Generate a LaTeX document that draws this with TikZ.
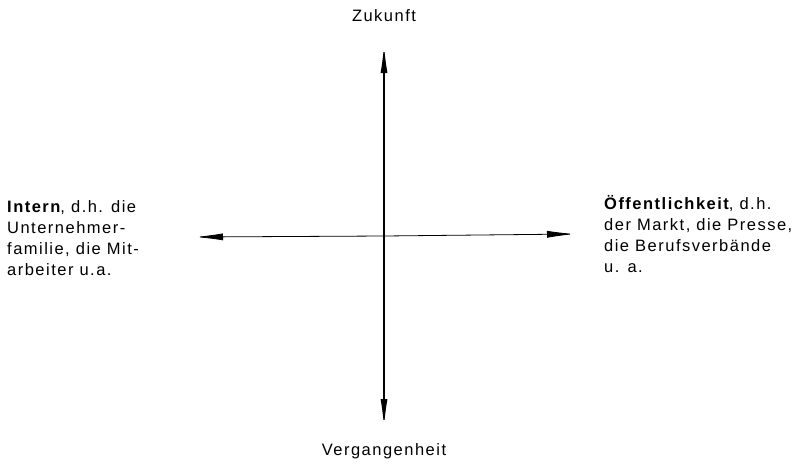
\documentclass[tikz,border=0pt]{standalone}
\usepackage{fontspec}
\setmainfont[LetterSpace=9]{Liberation Sans}
\usetikzlibrary{arrows.meta,positioning}

\begin{document}
\begin{tikzpicture}[
        x=1pt, y=-1pt,
        >={Latex[length=28pt,width=7pt]},
        axis/.style={draw=black, line width=1.2pt, ->},
        flat/.style={draw=black, line width=0.8pt, ->},
        label/.style={
            align=left,
            inner sep=0pt,
            anchor=base west,
            font=\fontsize{16.5}{20.8}\selectfont
        },
        pole/.style={
            inner sep=0pt,
            font=\fontsize{16.5}{20}\selectfont
        }
    ]
        \useasboundingbox (0,0) rectangle (805,464);

        \coordinate (origin) at (384,236);
        \coordinate (up) at (384,45);
        \coordinate (down) at (384,427);
        \coordinate (left) at (195,237);
        \coordinate (right) at (575,234);

        \node[pole, above=23pt of up] (future) {Zukunft};
        \node[pole, below=16pt of down] (past) {Vergangenheit};
        % base anchor sits on the last line
        \node[label] (inside) at (7,275) {\textbf{Intern}, d.h. die\\Unternehmer-\\familie, die Mit-\\arbeiter u.a.};
        \node[label] (public) at (604,272) {\textbf{Öffentlichkeit}, d.h.\\der Markt, die Presse,\\die Berufsverbände\\u. a.};

        \draw[axis] (origin) -- (up);
        \draw[axis] (origin) -- (down);
        \draw[flat] (origin) -- (left);
        \draw[flat] (origin) -- (right);
    \end{tikzpicture}
\end{document}
